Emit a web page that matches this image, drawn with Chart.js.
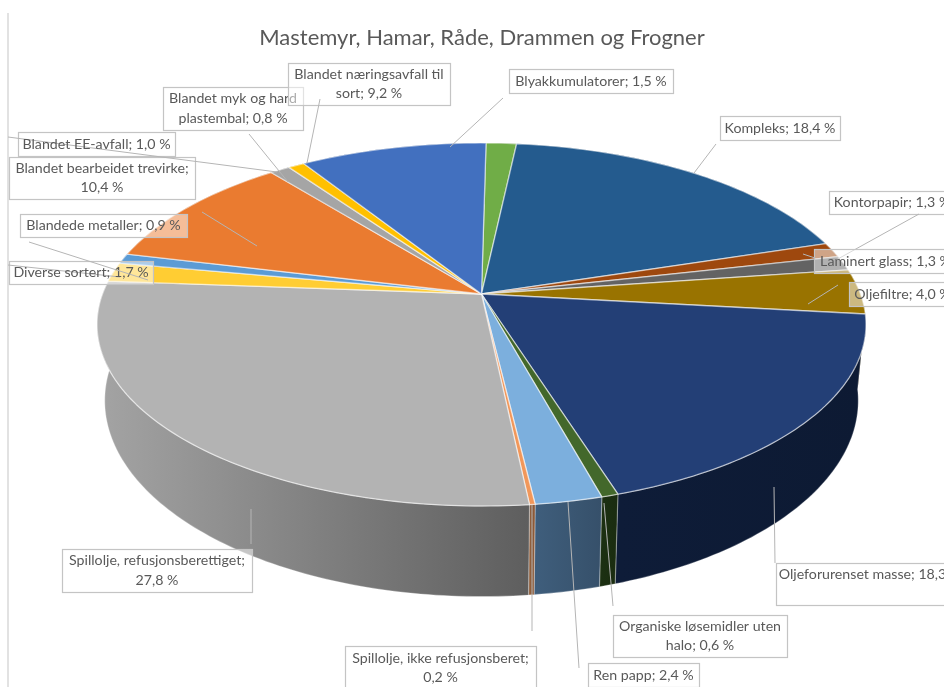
<!DOCTYPE html>
<html>
<head>
<meta charset="utf-8">
<style>
  html, body { margin: 0; padding: 0; background: #fff; overflow: hidden; }
  canvas { display: block; filter: blur(0.6px); }
</style>
<script src="https://cdn.jsdelivr.net/npm/chart.js@4/dist/chart.umd.min.js"></script>
</head>
<body>
<canvas id="myChart" width="944" height="687"></canvas>
<script>
const chartTitle = "Mastemyr, Hamar, Råde, Drammen og Frogner";

const categories = [
  "Blyakkumulatorer", "Kompleks", "Kontorpapir", "Laminert glass", "Oljefiltre",
  "Oljeforurenset masse", "Organiske løsemidler uten halo", "Ren papp",
  "Spillolje, ikke refusjonsberet", "Spillolje, refusjonsberettiget", "Diverse sortert",
  "Blandede metaller", "Blandet bearbeidet trevirke", "Blandet EE-avfall",
  "Blandet myk og hard plastembal", "Blandet næringsavfall til sort",
];
const shares = [1.5, 18.4, 1.3, 1.3, 4.0, 18.3, 0.6, 2.4, 0.2, 27.8, 1.7, 0.9, 10.4, 1.0, 0.8, 9.2];

const topColors = [
  "#70AD47", "#245B8E", "#9E480E", "#636363", "#997300", "#233F76", "#43682B", "#7CAFDD",
  "#F1975A", "#B3B3B3", "#FFCD33", "#5B9BD5", "#EA7B30", "#A5A5A5", "#FFC000", "#4270BF",
];
const wallLeft = [
  "#3d5f27", "#14334f", "#562708", "#363636", "#534000", "#0e1c38", "#1c3012", "#3f5e7c",
  "#8f5f3d", "#a4a4a4", "#8c701c", "#32557a", "#80441b", "#5a5a5a", "#8c6900", "#253e69",
];
const wallRight = [
  "#3d5f27", "#14334f", "#562708", "#363636", "#534000", "#0d1a33", "#1a2c10", "#36506a",
  "#8a5736", "#5e5e5e", "#8c701c", "#32557a", "#80441b", "#5a5a5a", "#8c6900", "#253e69",
];

// label box: x, y, w, h, words on first line (0 = one line), same order as categories
const labelBoxes = [
  [509, 69, 164, 24, 0], [720, 116, 120, 24, 0], [829, 191, 126, 23, 0], [814, 249, 143, 24, 0],
  [849, 282, 107, 24, 0], [776, 563, 188, 42, 4], [613, 615, 174, 42, 3], [588, 663, 111, 24, 0],
  [345, 646, 191, 44, 3], [62, 549, 190, 43, 2], [9, 261, 144, 23, 0], [20, 214, 167, 23, 0],
  [9, 157, 186, 42, 3], [18, 132, 157, 24, 0], [163, 87, 140, 43, 4], [288, 63, 162, 42, 3],
];
// leader line: x1, y1, x2, y2, same order as categories
const leaders = [
  [503, 98, 450, 147], [716, 144, 694, 173], [919, 214, 836, 260], [803, 254, 815, 258],
  [838, 285, 808, 304], [775, 563, 774, 487], [613, 606, 604, 503], [579, 668, 568, 502],
  [532, 631, 532, 505], [251, 544, 251, 509], [8, 265, 120, 277], [29, 242, 148, 280],
  [202, 212, 257, 246], [8, 137, 277, 172], [249, 134, 288, 182], [320, 99, 307, 163],
];

// perspective of the pie disc, and of the lower rim seen through the wall
const disc = { cx: 481.5, cy: 294, a: 379, b: 176.4, k: 0.168 };
const rim = { shrink: 0.98, stretch: 1.08, fromY: 324, toY: 400 };

const project = (angle, r) => {
  const u = Math.cos(angle) * r;
  const v = -Math.sin(angle) * r;
  const w = 1 + disc.k * v;
  return { x: disc.cx + (disc.a * u) / w, y: disc.cy - (disc.b * v) / w };
};

const arcPoints = (start, end) => {
  const n = Math.max(2, Math.ceil(((end - start) * 180) / Math.PI));
  return Array.from({ length: n + 1 }, (_, i) => project(start + ((end - start) * i) / n, 1));
};

const lower = (p) => ({
  x: disc.cx + (p.x - disc.cx) * rim.shrink,
  y: rim.toY + (p.y - rim.fromY) * rim.stretch,
});

const pie3d = {
  id: "pie3d",
  beforeDatasetDraw(chart, args) {
    const ctx = chart.ctx;
    const arcs = chart.getDatasetMeta(args.index).data;
    ctx.save();
    ctx.lineJoin = "round";

    arcs.forEach((arc, i) => {
      const top = arcPoints(arc.startAngle, arc.endAngle);
      const xs = top.map((p) => p.x);
      const grad = ctx.createLinearGradient(Math.min(...xs), 0, Math.max(...xs), 0);
      grad.addColorStop(0, wallLeft[i]);
      grad.addColorStop(1, wallRight[i]);
      ctx.beginPath();
      top.forEach((p, j) => (j ? ctx.lineTo(p.x, p.y) : ctx.moveTo(p.x, p.y)));
      top.slice().reverse().forEach((p) => {
        const q = lower(p);
        ctx.lineTo(q.x, q.y);
      });
      ctx.closePath();
      ctx.fillStyle = grad;
      ctx.fill();
      ctx.strokeStyle = "rgba(255,255,255,0.28)";
      ctx.lineWidth = 1.2;
      ctx.stroke();
    });

    arcs.forEach((arc, i) => {
      ctx.beginPath();
      ctx.moveTo(disc.cx, disc.cy);
      arcPoints(arc.startAngle, arc.endAngle).forEach((p) => ctx.lineTo(p.x, p.y));
      ctx.closePath();
      ctx.fillStyle = topColors[i];
      ctx.fill();
      ctx.strokeStyle = "rgba(255,255,255,0.55)";
      ctx.lineWidth = 1.3;
      ctx.stroke();
    });
    ctx.restore();
    return false;
  },
  afterDraw(chart) {
    const ctx = chart.ctx;
    ctx.save();
    ctx.strokeStyle = "#d9d9d9";
    ctx.lineWidth = 1.5;
    ctx.beginPath();
    ctx.moveTo(8, 13);
    ctx.lineTo(8, 687);
    ctx.stroke();

    ctx.font = "14.2px Lato";
    ctx.textAlign = "center";
    ctx.textBaseline = "middle";
    categories.forEach((name, i) => {
      const [x, y, w, h, brk] = labelBoxes[i];
      ctx.fillStyle = "rgba(255,255,255,0.5)";
      ctx.fillRect(x, y, w, h);
      ctx.strokeStyle = "#c4c4c4";
      ctx.lineWidth = 1.2;
      ctx.strokeRect(x + 0.5, y + 0.5, w, h);

      const [x1, y1, x2, y2] = leaders[i];
      ctx.strokeStyle = "#b5b5b5";
      ctx.lineWidth = 1;
      ctx.beginPath();
      ctx.moveTo(x1, y1);
      ctx.lineTo(x2, y2);
      ctx.stroke();

      const words = `${name}; ${shares[i].toFixed(1).replace(".", ",")} %`.split(" ");
      const lines = brk ? [words.slice(0, brk).join(" "), words.slice(brk).join(" ")] : [words.join(" ")];
      ctx.fillStyle = "#595959";
      lines.forEach((line, j) => {
        ctx.fillText(line, x + w / 2, y + h / 2 + (j - (lines.length - 1) / 2) * 19.2);
      });
    });
    ctx.restore();
  },
};

new Chart(document.getElementById("myChart"), {
  type: "pie",
  data: {
    labels: categories,
    datasets: [{ data: shares, backgroundColor: topColors }],
  },
  options: {
    responsive: false,
    animation: false,
    rotation: 0.8,
    layout: { padding: { left: 20 } },
    plugins: {
      legend: { display: false },
      tooltip: { enabled: false },
      title: {
        display: true,
        text: chartTitle,
        color: "#595959",
        font: { family: "Lato", size: 22, weight: "normal" },
        padding: { top: 25, bottom: 10 },
      },
    },
  },
  plugins: [pie3d],
});
</script>
</body>
</html>
